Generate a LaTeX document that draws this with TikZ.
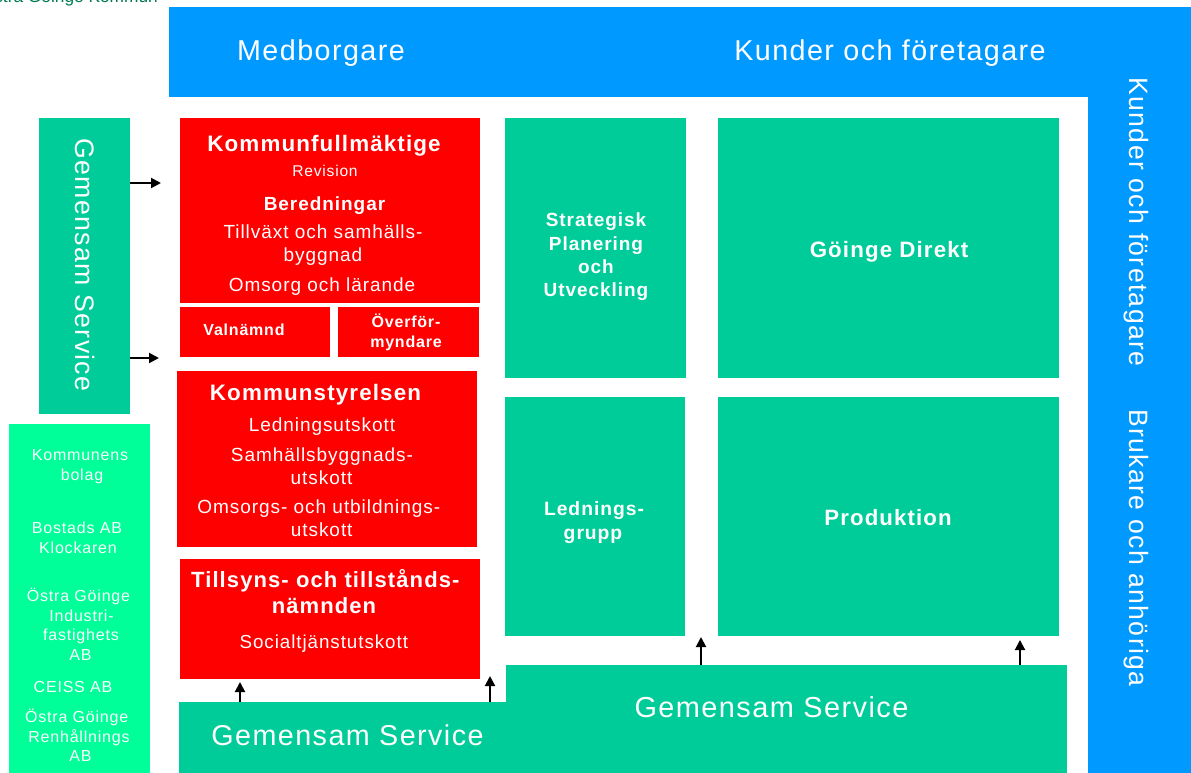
\documentclass[tikz,border=0pt]{standalone}
\usepackage{fontspec}
\setmainfont{Liberation Sans}[LetterSpace=5]
\newfontfamily\plainsans{Liberation Sans}
\usetikzlibrary{arrows.meta}
\definecolor{cblue}{HTML}{0099FF}
\definecolor{cgreen}{HTML}{00CC99}
\definecolor{clight}{HTML}{00FF99}
\definecolor{cred}{HTML}{FF0000}
\definecolor{cdark}{HTML}{007A4D}
\newcommand\fsz[1]{\fontsize{#1}{#1}\selectfont}
\begin{document}
\begin{tikzpicture}[x=1pt,y=-1pt,
  box/.style={draw=none, inner sep=0pt, outer sep=0pt, anchor=north west},
  bluebox/.style={box, fill=cblue},
  greenbox/.style={box, fill=cgreen},
  lightbox/.style={box, fill=clight},
  redbox/.style={box, fill=cred},
  t/.style={text=white, inner sep=0pt, outer sep=0pt, anchor=base},
  arr/.style={draw=black, line width=2pt, -{Triangle[length=10pt,width=10pt]}}
]
\useasboundingbox (0,0) rectangle (1191,773);

% header text (cut off at top)
\node[inner sep=0pt, anchor=base east, text=cdark, font=\plainsans\fsz{17.3}] (kommun) at (158,2.6) {Östra Göinge Kommun};

% blue frame
\node[bluebox, minimum width=1022pt, minimum height=90pt] (topbar) at (169,7) {};
\node[bluebox, minimum width=103pt, minimum height=677pt] (rightbar) at (1088,96) {};
\node[t, font=\fsz{28.7}] (medb) at (321,61) {Medborgare};
\node[t, font=\fsz{28.7}] (kunder) at (890,61) {Kunder och företagare};
\node[t, anchor=center, rotate=-90, font=\fsz{26.6}] (kunderv) at (1136,222) {Kunder och företagare};
\node[t, anchor=center, rotate=-90, font=\fsz{26.6}] (brukare) at (1136,548) {Brukare och anhöriga};

% left Gemensam Service
\node[greenbox, minimum width=91pt, minimum height=296pt] (gsv) at (39,118) {};
\node[t, anchor=center, rotate=-90, font=\fsz{26.7}] (gsvt) at (85,265) {Gemensam Service};

% Kommunens bolag
\node[lightbox, minimum width=141pt, minimum height=349pt] (bolag) at (9,424) {};
\foreach \txt/\xx/\yy [count=\i] in {Kommunens/80/460.8, bolag/82/480.3, Bostads AB/77/533.8, Klockaren/78/553.3, Östra Göinge/78.5/601.8, Industri-/81.5/621.3, fastighets/81/640.8, AB/80.5/660.3, CEISS AB/73/692.8, Östra Göinge/76.7/722.8, Renhållnings/79/742.3, AB/80.5/761.8}
  \node[t, font=\fsz{16}] (bol\i) at (\xx,\yy) {\txt};

% Kommunfullmaktige
\node[redbox, minimum width=300pt, minimum height=185pt] (kf) at (180,118) {};
\node[t, font=\bfseries\fsz{22.4}] (kft) at (324,151) {Kommunfullmäktige};
\node[t, font=\fsz{15.6}] (rev) at (325,176.5) {Revision};
\node[t, font=\bfseries\fsz{19}] (ber) at (324.5,210) {Beredningar};
\node[t, font=\fsz{19}] (till1) at (323,238) {Tillväxt och samhälls-};
\node[t, font=\fsz{19}] (till2) at (323,261.5) {byggnad};
\node[t, font=\fsz{19}] (oms) at (322,291) {Omsorg och lärande};

% Valnamnd, Overformyndare
\node[redbox, minimum width=150pt, minimum height=50pt] (val) at (180,307) {};
\node[t, font=\bfseries\fsz{16}] (valt) at (244,335) {Valnämnd};
\node[redbox, minimum width=141pt, minimum height=50pt] (ofm) at (338,307) {};
\node[t, font=\bfseries\fsz{16}] (ofm1) at (406,327) {Överför-};
\node[t, font=\bfseries\fsz{16}] (ofm2) at (406,347.3) {myndare};

% Kommunstyrelsen
\node[redbox, minimum width=300pt, minimum height=176pt] (ks) at (177,371) {};
\node[t, font=\bfseries\fsz{22.4}] (kst) at (315.5,400) {Kommunstyrelsen};
\node[t, font=\fsz{19}] (ks1) at (322,431) {Ledningsutskott};
\node[t, font=\fsz{19}] (ks2) at (322,461.7) {Samhällsbyggnads-};
\node[t, font=\fsz{19}] (ks3) at (321.5,484.3) {utskott};
\node[t, font=\fsz{19}] (ks4) at (318.8,513.3) {Omsorgs- och utbildnings-};
\node[t, font=\fsz{19}] (ks5) at (321.7,536.7) {utskott};

% Tillsyns
\node[redbox, minimum width=300pt, minimum height=120pt] (tt) at (180,559) {};
\node[t, font=\bfseries\fsz{22}] (tt1) at (325.3,587.7) {Tillsyns- och tillstånds-};
\node[t, font=\bfseries\fsz{22}] (tt2) at (324,613.3) {nämnden};
\node[t, font=\fsz{18.8}] (tt3) at (323.8,648.3) {Socialtjänstutskott};

% green organisation boxes
\node[greenbox, minimum width=181pt, minimum height=260pt] (spu) at (505,118) {};
\node[t, font=\bfseries\fsz{19}] (spu1) at (596,226.7) {Strategisk};
\node[t, font=\bfseries\fsz{19}] (spu2) at (596,250) {Planering};
\node[t, font=\bfseries\fsz{19}] (spu3) at (596,273.3) {och};
\node[t, font=\bfseries\fsz{19}] (spu4) at (596,296.6) {Utveckling};

\node[greenbox, minimum width=341pt, minimum height=260pt] (gd) at (718,118) {};
\node[t, font=\bfseries\fsz{22.3}] (gdt) at (889,257) {Göinge Direkt};

\node[greenbox, minimum width=180pt, minimum height=239pt] (lg) at (505,397) {};
\node[t, font=\bfseries\fsz{19.3}] (lg1) at (594,515) {Lednings-};
\node[t, font=\bfseries\fsz{19.3}] (lg2) at (593,539) {grupp};

\node[greenbox, minimum width=341pt, minimum height=239pt] (prod) at (718,397) {};
\node[t, font=\bfseries\fsz{22.2}] (prodt) at (888,525) {Produktion};

% bottom Gemensam Service
\node[greenbox, minimum width=888pt, minimum height=71pt] (gsb1) at (179,702) {};
\node[greenbox, minimum width=561pt, minimum height=56pt] (gsb2) at (506,665) {};
\node[t, font=\fsz{28.7}] (gsb1t) at (347.5,745) {Gemensam Service};
\node[t, font=\fsz{28.9}] (gsb2t) at (771.5,717) {Gemensam Service};

% arrows
\coordinate (a1e) at (161,183);
\coordinate (a2e) at (159,358);
\coordinate (a3e) at (240,682);
\coordinate (a4e) at (490,676);
\coordinate (a5e) at (701,637);
\coordinate (a6e) at (1020,640);
\draw[arr] (a1e -| gsv.east) -- (a1e);
\draw[arr] (a2e -| gsv.east) -- (a2e);
\draw[arr] (a3e |- gsb1.north) -- (a3e);
\draw[arr] (a4e |- gsb1.north) -- (a4e);
\draw[arr] (a5e |- gsb2.north) -- (a5e);
\draw[arr] (a6e |- gsb2.north) -- (a6e);
\end{tikzpicture}
\end{document}
